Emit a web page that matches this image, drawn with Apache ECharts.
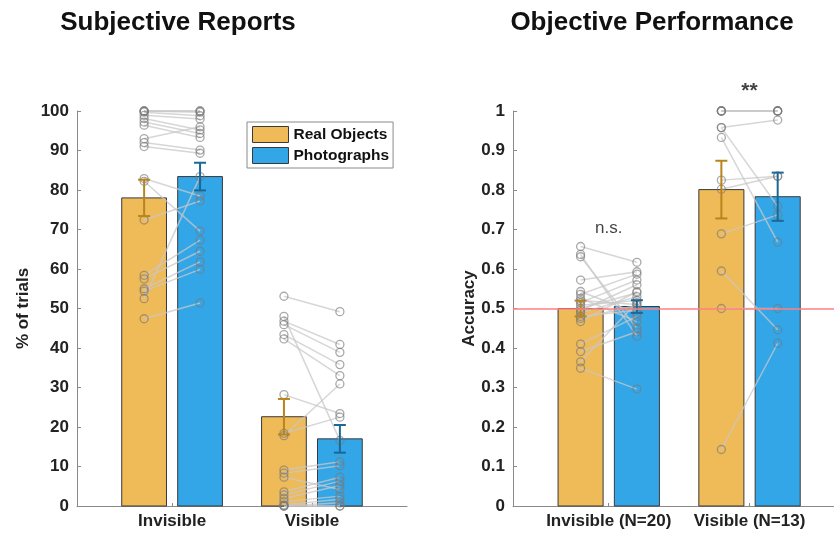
<!DOCTYPE html>
<html><head><meta charset="utf-8">
<script src="https://cdn.jsdelivr.net/npm/echarts@6/dist/echarts.min.js"></script>
<style>html,body{margin:0;padding:0;background:#fff}#c{width:834px;height:534px}</style>
</head><body><div id="c"></div>
<script>
// ---------- data ----------
const groups = ['Real Objects', 'Photographs'];
const subjCats = ['Invisible', 'Visible'];
const objCats = ['Invisible (N=20)', 'Visible (N=13)'];
const subjTicks = [0,10,20,30,40,50,60,70,80,90,100];
const objTicks = [0,0.1,0.2,0.3,0.4,0.5,0.6,0.7,0.8,0.9,1];

const subjRealMean = [78.0, 22.6];
const subjRealErr = [4.6, 4.5];
const subjPhotoMean = [83.4, 17.0];
const subjPhotoErr = [3.5, 3.5];

const objRealMean = [0.500, 0.801];
const objRealErr = [0.020, 0.073];
const objPhotoMean = [0.505, 0.783];
const objPhotoErr = [0.016, 0.061];
const chance = 0.5;

// per-subject values (same index = same subject)
const subjInvReal  = [47.4,52.5,54.4,55.0,57.5,58.4,72.4,82.9,82.2,91,92,93,96.4,97.2,98.1,98.9,99.7,100,100,100];
const subjInvPhoto = [51.4,83.4,59.9,61.8,64.5,67.3,77.2,78.5,69.6,89.3,90.1,96,93.3,94.3,95.2,98,98.8,99.7,100,100];
const subjVisReal  = [53.1,48.0,46.8,45.9,43.4,42.3,28.2,18.4,17.8,9.1,8.3,7.3,3.6,2.8,1.9,1.1,0.3,0,0,0];
const subjVisPhoto = [49.2,16.6,40.9,38.9,35.8,33.0,23.4,22.5,30.9,11.2,10.2,4.2,7.3,6.3,5.2,2.5,1.7,0.8,0,0];

const objInvReal  = [0.657,0.637,0.631,0.572,0.543,0.536,0.526,0.515,0.508,0.500,0.495,0.489,0.475,0.467,0.410,0.391,0.365,0.349,0.480,0.520];
const objInvPhoto = [0.617,0.430,0.450,0.593,0.488,0.587,0.467,0.572,0.520,0.540,0.560,0.530,0.508,0.543,0.480,0.441,0.515,0.296,0.496,0.510];
const objVisReal  = [1,1,1,1,0.958,0.958,0.933,0.825,0.802,0.689,0.595,0.500,0.143];
const objVisPhoto = [1,1,1,1,0.977,0.759,0.668,0.835,0.835,0.737,0.446,0.500,0.412];

const annotations = [{x:1, y:0.704, text:'n.s.', bold:false, size:17}, {x:2, y:1.05, text:'**', bold:true, size:21}];

// ---------- style ----------
const REAL_COLOR = '#EFBA58', PHOTO_COLOR = '#33A6E8';
const REAL_ERR = '#B8841C', PHOTO_ERR = '#1C6894';
const OFF = 0.2, HALF = 0.16;
const FONT = 'Liberation Sans, Arial, sans-serif';
const TXT = '#222';
const AX = '#8a8a8a';

function barSeries(name, g, means, off, color){
  return {type:'custom', name, xAxisIndex:g, yAxisIndex:g, z:1,
    itemStyle:{color}, encode:{x:0,y:1},
    data: means.map((v,i)=>[i+1+off, v]),
    renderItem:(p, api)=>{
      const x=api.value(0), y=api.value(1);
      const a=api.coord([x-HALF, y]), b=api.coord([x+HALF, 0]);
      return {type:'rect', shape:{x:a[0], y:a[1], width:b[0]-a[0], height:b[1]-a[1]},
        style:{fill:color, stroke:'#3a3a3a', lineWidth:1}};
    }};
}
function errSeries(name, g, means, errs, off, color){
  return {type:'custom', name, xAxisIndex:g, yAxisIndex:g, z:6,
    itemStyle:{color}, encode:{x:0,y:[1,2]},
    data: means.map((m,i)=>[i+1+off, m-errs[i], m+errs[i]]),
    renderItem:(p, api)=>{
      const x=api.value(0);
      const lo=api.coord([x, api.value(1)]), hi=api.coord([x, api.value(2)]);
      const c=6, st={stroke:color, lineWidth:2};
      return {type:'group', children:[
        {type:'line', shape:{x1:hi[0],y1:hi[1],x2:lo[0],y2:lo[1]}, style:st},
        {type:'line', shape:{x1:hi[0]-c,y1:hi[1],x2:hi[0]+c,y2:hi[1]}, style:st},
        {type:'line', shape:{x1:lo[0]-c,y1:lo[1],x2:lo[0]+c,y2:lo[1]}, style:st}
      ]};
    }};
}
function pairLines(g, sets){
  const data=[];
  sets.forEach(([cat, r, ph])=>{ r.forEach((v,j)=>data.push([cat-OFF, v, cat+OFF, ph[j]])); });
  return {type:'custom', xAxisIndex:g, yAxisIndex:g, z:3, silent:true, encode:{x:[0,2], y:[1,3]},
    data, renderItem:(p, api)=>{
      const a=api.coord([api.value(0), api.value(1)]), b=api.coord([api.value(2), api.value(3)]);
      return {type:'line', shape:{x1:a[0],y1:a[1],x2:b[0],y2:b[1]}, style:{stroke:'rgba(200,200,200,0.75)', lineWidth:1.5}};
    }};
}
function points(g, sets){
  const data=[];
  sets.forEach(([x, arr])=>arr.forEach(v=>data.push([x, v])));
  return {type:'scatter', xAxisIndex:g, yAxisIndex:g, z:4, silent:true, symbol:'circle', symbolSize:8,
    itemStyle:{color:'rgba(255,255,255,0)', borderColor:'rgba(120,120,120,0.8)', borderWidth:1.3}, data};
}

function xAxis(g, max, cats){
  return {type:'value', gridIndex:g, min:0.32, max, 
    axisLine:{show:true, onZero:false, lineStyle:{color:AX, width:1}},
    axisTick:{show:true, inside:true, length:3, customValues:[1,2], lineStyle:{color:AX}},
    axisLabel:{customValues:[1,2], formatter:v=>cats[Math.round(v)-1], color:TXT, fontFamily:FONT, fontWeight:'bold', fontSize:17, margin:7},
    splitLine:{show:false}};
}
function yAxis(g, max, interval, name, gap, ticks){
  return {type:'value', gridIndex:g, min:0, max, interval,
    name, nameLocation:'middle', nameGap:gap, nameRotate:90,
    nameTextStyle:{color:TXT, fontFamily:FONT, fontWeight:'bold', fontSize:17},
    axisLine:{show:true, lineStyle:{color:AX, width:1}},
    axisTick:{show:true, inside:true, length:4, lineStyle:{color:AX}},
    axisLabel:{color:TXT, fontFamily:FONT, fontWeight:'bold', fontSize:17, margin:8,
      formatter:v=>{ const t=ticks.find(k=>Math.abs(k-v)<1e-9); return t===undefined?'':String(t);} },
    splitLine:{show:false}};
}

const series = [
  barSeries(groups[0], 0, subjRealMean, -OFF, REAL_COLOR),
  barSeries(groups[1], 0, subjPhotoMean, OFF, PHOTO_COLOR),
  barSeries(groups[0], 1, objRealMean, -OFF, REAL_COLOR),
  barSeries(groups[1], 1, objPhotoMean, OFF, PHOTO_COLOR),
  pairLines(0, [[1, subjInvReal, subjInvPhoto], [2, subjVisReal, subjVisPhoto]]),
  pairLines(1, [[1, objInvReal, objInvPhoto], [2, objVisReal, objVisPhoto]]),
  points(0, [[1-OFF, subjInvReal],[1+OFF, subjInvPhoto],[2-OFF, subjVisReal],[2+OFF, subjVisPhoto]]),
  points(1, [[1-OFF, objInvReal],[1+OFF, objInvPhoto],[2-OFF, objVisReal],[2+OFF, objVisPhoto]]),
  errSeries(groups[0], 0, subjRealMean, subjRealErr, -OFF, REAL_ERR),
  errSeries(groups[1], 0, subjPhotoMean, subjPhotoErr, OFF, PHOTO_ERR),
  errSeries(groups[0], 1, objRealMean, objRealErr, -OFF, REAL_ERR),
  errSeries(groups[1], 1, objPhotoMean, objPhotoErr, OFF, PHOTO_ERR),
  {type:'scatter', xAxisIndex:1, yAxisIndex:1, z:7, silent:true, clip:false, symbolSize:0,
    data: annotations.map(a=>({value:[a.x, a.y], label:{show:true, position:'inside', formatter:a.text,
      color:'#111', fontFamily:FONT, fontSize:a.size, fontWeight:a.bold?'bold':'normal'}})),
    markLine:{silent:true, symbol:'none', label:{show:false}, z:8,
      lineStyle:{color:'#FF7F7F', width:1.5, type:'solid'}, data:[{yAxis:chance}]}}
];

const option = {
  animation:false,
  backgroundColor:'#fff',
  grid:[{left:77, right:427, top:111, bottom:28, containLabel:false},
        {left:513, right:0, top:111, bottom:28, containLabel:false}],
  xAxis:[xAxis(0, 2.68, subjCats), xAxis(1, 2.6, objCats)],
  yAxis:[yAxis(0, 100, 10, '% of trials', 45, subjTicks), yAxis(1, 1, 0.1, 'Accuracy', 35, objTicks)],
  legend:{left:247, top:122, orient:'vertical', itemWidth:36, itemHeight:16, itemGap:4,
    padding:[4,4,4,5], borderColor:'#8a8a8a', borderWidth:1, backgroundColor:'#fff',
    textStyle:{color:'#111', fontFamily:FONT, fontWeight:'bold', fontSize:15.5},
    data: [
      {name:groups[0], icon:'rect', itemStyle:{color:REAL_COLOR, borderColor:'#3a3a3a', borderWidth:1}},
      {name:groups[1], icon:'rect', itemStyle:{color:PHOTO_COLOR, borderColor:'#3a3a3a', borderWidth:1}}
    ]},
  graphic:[
    {type:'text', x:178, y:23, style:{text:'Subjective Reports', textAlign:'center', textVerticalAlign:'middle', fill:'#111', font:'bold 26px '+FONT}},
    {type:'text', x:652, y:23, style:{text:'Objective Performance', textAlign:'center', textVerticalAlign:'middle', fill:'#111', font:'bold 26px '+FONT}}
  ],
  series
};
const chart = echarts.init(document.getElementById('c'));
chart.setOption(option);
</script>
</body></html>
